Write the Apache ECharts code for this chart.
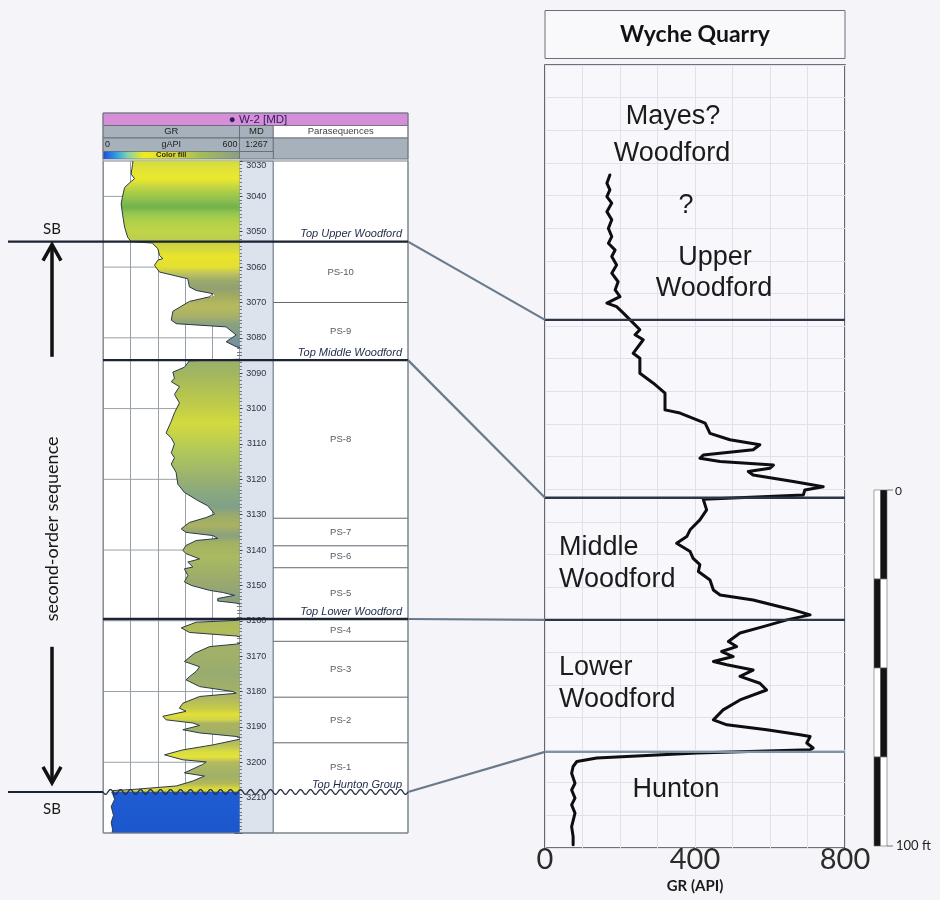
<!DOCTYPE html>
<html>
<head>
<meta charset="utf-8">
<script src="https://cdn.jsdelivr.net/npm/echarts@6/dist/echarts.min.js"></script>
<style>
  html, body { margin: 0; padding: 0; background: #f5f4f8; }
  #chart { width: 940px; height: 900px; }
</style>
</head>
<body>
<div id="chart"></div>
<script>
// ---------------- W-2 well log (measured depth ft, GR gAPI) ----------------
const w2Log = [
  [3030,130],[3031,128],[3033.7,122],[3035,137],[3036,118],[3037.5,93],[3040.3,83],[3042.2,78],
  [3045.5,85],[3048.7,93],[3051.6,107],[3052.8,122],
  [3053.2,215],[3053.6,218],[3054.8,240],[3056.7,247],[3057.6,262],[3058,240],[3059.5,225],[3061.4,247],
  [3063.3,372],[3065.6,379],[3066.6,409],[3067.5,482],[3068,490],[3068.4,468],[3069.7,379],[3072.5,306],
  [3075,299],[3076,321],[3076.9,541],[3079.2,585],[3081.1,541],[3082.5,585],[3083,620],[3086,620],
  [3086.5,379],[3088.3,357],[3089.7,306],[3091.4,313],[3092.4,299],[3093.8,335],[3096,313],[3098.4,335],
  [3101.2,313],[3103.6,299],[3106.9,276],[3108.3,299],[3110,313],[3112.5,299],[3113.9,313],[3115.7,299],
  [3118,320],[3121.4,328],[3123.7,357],[3126,416],[3127.5,460],[3129.8,490],[3130.8,453],[3132.2,379],
  [3134,343],[3135,364],[3135.9,482],[3136.7,504],[3137.3,409],[3138.7,364],[3140.1,350],[3141,364],
  [3142.5,424],[3143.4,372],[3144.8,394],[3145.3,357],[3147.2,372],[3149,357],[3150,387],[3151.4,468],
  [3152,526],[3152.8,578],[3153.7,504],[3154.4,504],[3155,585],[3155.5,620],[3159.5,620],
  [3159.9,585],[3160.4,409],[3162,343],[3163.3,379],[3164.3,585],[3164.8,620],[3166.2,620],[3166.6,585],
  [3167.3,468],[3169.2,401],[3171.5,357],[3173,424],[3174.3,409],[3175.8,379],[3176.7,364],[3178.6,424],
  [3180,571],[3180.5,585],[3181.4,424],[3183.3,350],[3184.7,335],[3185.6,364],[3187,262],[3188,276],
  [3188.9,394],[3189.6,424],[3190.8,350],[3191.7,424],[3192.7,585],[3193.2,620],[3193.5,620],[3193.7,585],
  [3195.1,482],[3196.5,350],[3197.9,269],[3199.3,350],[3199.9,453],[3200.6,438],[3203,357],[3203.9,445],
  [3205.3,394],[3206.7,321],[3207.7,129],[3208,41],[3208.5,34],[3210.5,49],[3212.5,34],[3215,44],
  [3217,34],[3219,40],[3220,38]
];

// Color-fill bands of the GR track (depth, colour)
const fillDepths = [3030,3032,3035,3037,3039,3041,3043,3045,3047,3050,3052.8,3053.2,3055,3057,3060,3062,3064,3066,3068,3071,3074,3076,3079,3082,3086,3086.5,3090,3095,3100,3104,3107,3112,3117,3120,3124,3128,3130,3133,3136,3138,3142,3146,3150,3153,3158,3160,3163,3166,3170,3175,3179,3182,3185,3186.5,3188,3189,3192,3195,3197,3198.5,3200,3204,3206,3207.5,3208.2,3208.4,3220];
const fillColors = ['#d2da3c','#e0e23a','#ebe92c','#cad842','#a8cc48','#8cc050','#72b24c','#98c850','#b0d048','#c0d448','#bacc50','#c8d040','#d8d83e','#e9e52a','#e4df32','#bac062','#9aa96a','#90a072','#a2aa62','#b6ba5e','#a8b068','#8aa280','#7e9a88','#7290a0','#7a98a0','#9ab06a','#a2b660','#b2c252','#c2ce48','#d2da3e','#c8d448','#b0c858','#a2ba68','#98b070','#88a880','#80a088','#9aaa6e','#aab260','#88a080','#a2b262','#aaba60','#a0b068','#98a870','#8ca080','#90a078','#aab860','#b2bc58','#a2b268','#a0b068','#98ac70','#a0b068','#b0b860','#c8cc48','#e2e038','#d0d448','#aab262','#a0b068','#b8c058','#d8dc40','#e6e23a','#b2ba60','#a0b068','#b0b858','#ddd938','#d8d840','#1f5bd2','#1c58cc'];

// Horizontal reference lines of the GR track
const grRowDepths = [3040, 3060, 3080, 3100, 3120, 3140, 3160, 3180, 3200];

// Formation tops picked on W-2
const w2TopNames  = ['Top Upper Woodford', 'Top Middle Woodford', 'Top Lower Woodford', 'Top Hunton Group'];
const w2TopDepths = [3052.8, 3086.3, 3159.5, 3208.4];

// Parasequences (top depth of each, base of PS-1 is Top Hunton Group)
const psNames     = ['PS-10', 'PS-9', 'PS-8', 'PS-7', 'PS-6', 'PS-5', 'PS-4', 'PS-3', 'PS-2', 'PS-1'];
const psTopDepths = [3052.8, 3070, 3086.3, 3131, 3138.8, 3145, 3159.5, 3165.8, 3181.6, 3194.5];
const psBaseDepth = 3208.4;

// ---------------- Wyche Quarry outcrop (ft below top of section, GR API) ----------------
const wqLog = [
  [30.9,173],[33.2,165],[35.1,173],[37.0,165],[38.8,178],[41.2,165],[43.5,178],[45.9,169],[48.2,178],
  [50.1,169],[52.0,187],[53.8,178],[56.2,191],[58.5,178],[60.9,195],[63.2,187],[65.1,200],[66.9,165],
  [67.9,191],[69.7,209],[71.6,227],[74.4,253],[75.8,240],[77.2,262],[81.0,235],[82.4,253],[86.6,253],
  [89.4,289],[92.2,320],[96.9,320],[97.8,360],[100.6,427],[103.5,440],[105.3,493],[106.7,573],[108.1,555],
  [109.6,422],[110.5,413],[111.4,467],[112.4,609],[113.3,600],[114.2,542],[115.2,555],[117.0,662],
  [118.5,742],[119.4,693],[120.8,689],[122.0,422],[125.0,431],[127.8,413],[130.6,387],[132.5,378],
  [134.4,351],[136.7,387],[138.6,395],[140.4,413],[142.3,409],[144.7,440],[147.5,449],[148.9,467],
  [150.3,555],[152.2,627],[153.1,662],[154.5,707],[155.9,645],[157.8,582],[159.6,520],[162.0,489],
  [163.4,511],[164.8,471],[166.2,502],[167.6,449],[168.5,485],[170.0,555],[171.8,520],[173.7,573],
  [175.6,591],[178.4,520],[181.2,475],[184.0,449],[185.4,485],[186.8,591],[188.2,680],[188.7,707],
  [190.5,698],[191.9,715],[192.4,707],[193.3,405],[194.7,138],[195.7,85],[197.1,75],[199.0,71],
  [201.8,80],[203.7,71],[206.0,80],[207.9,71],[210.2,80],[214.0,71],[216.8,75],[219.1,75]
];
const wqTopDepths = [71.6, 121.6, 155.9, 193.0];
const wqAxisLabels = [0, 400, 800];

// Scale bar divisions (ft)
const scaleBarTicks = [0, 25, 50, 75, 100];

// ---------------- chart ----------------
const DEPTH_TOP = 3030, DEPTH_BASE = 3220, GR_MAX = 600;
const SANS = '"Liberation Sans", Arial, sans-serif';
const CAL = 'Lato, "Open Sans", sans-serif';
const LOG_L = 103, LOG_R = 408, WQ_L = 545, WQ_R = 845;

const chart = echarts.init(document.getElementById('chart'), null, { renderer: 'canvas' });

const hidden = { show: false };
const option = {
  backgroundColor: '#f5f4f8',
  animation: false,
  grid: [
    { left: 103.5, top: 161, width: 136, height: 672, show: true, backgroundColor: '#ffffff', borderColor: '#7e8791', borderWidth: 1, outerBoundsMode: 'none' },
    { left: 239.5, top: 161, width: 33.8, height: 672, show: true, backgroundColor: '#dbe3ed', borderColor: '#59626d', borderWidth: 1, outerBoundsMode: 'none' },
    { left: 273.3, top: 161, width: 134.7, height: 672, show: true, backgroundColor: '#ffffff', borderColor: '#7e8791', borderWidth: 1, outerBoundsMode: 'none' },
    { left: WQ_L, top: 65, width: WQ_R - WQ_L, height: 783, show: true, backgroundColor: '#f8f7fb', borderColor: '#3f4752', borderWidth: 1.6, outerBoundsMode: 'none' },
    { left: 874, top: 490, width: 13, height: 356, show: false, outerBoundsMode: 'none' }
  ],
  xAxis: [
    { gridIndex: 0, type: 'value', min: 0, max: GR_MAX, interval: 120,
      axisLine: hidden, axisTick: hidden, axisLabel: hidden,
      splitLine: { show: true, lineStyle: { color: '#98a0a9', width: 1 } } },
    { gridIndex: 1, type: 'value', min: 0, max: 1, show: false },
    { gridIndex: 2, type: 'value', min: 0, max: 1, show: false },
    { gridIndex: 3, type: 'value', min: 0, max: 800, interval: 100,
      axisLine: hidden, axisTick: hidden,
      axisLabel: { show: true, margin: -3, fontSize: 29, fontFamily: CAL, color: '#2b2b2b',
        formatter: v => (wqAxisLabels.indexOf(v) >= 0 ? String(v) : '') },
      splitLine: { show: true, lineStyle: { color: '#e2e0ea', width: 1 } },
      name: 'GR (API)', nameLocation: 'middle', nameGap: 31,
      nameTextStyle: { fontFamily: CAL, fontWeight: 'bold', fontSize: 15, color: '#1a1a1a' } },
    { gridIndex: 4, type: 'value', min: 0, max: 2, show: false }
  ],
  yAxis: [
    { gridIndex: 0, type: 'value', inverse: true, min: DEPTH_TOP, max: DEPTH_BASE, show: false },
    { gridIndex: 1, type: 'value', inverse: true, min: DEPTH_TOP, max: DEPTH_BASE, interval: 10, position: 'right',
      axisLine: hidden,
      axisTick: { show: true, inside: true, length: 5, lineStyle: { color: '#3a424c', width: 1 } },
      minorTick: { show: true, splitNumber: 10, length: 2.5, lineStyle: { color: '#56606b', width: 0.8 } },
      axisLabel: { show: true, inside: true, margin: 7, fontSize: 9, fontFamily: SANS, color: '#2d3440',
        formatter: v => String(v), showMaxLabel: false, verticalAlignMinLabel: 'top' },
      splitLine: hidden },
    { gridIndex: 1, type: 'value', inverse: true, min: DEPTH_TOP, max: DEPTH_BASE, interval: 10, position: 'left',
      axisLine: hidden, axisLabel: hidden,
      axisTick: { show: true, inside: true, length: 3, lineStyle: { color: '#3a424c', width: 1 } },
      minorTick: { show: true, splitNumber: 10, length: 2.5, lineStyle: { color: '#56606b', width: 0.8 } },
      splitLine: hidden },
    { gridIndex: 2, type: 'value', inverse: true, min: DEPTH_TOP, max: DEPTH_BASE, show: false },
    { gridIndex: 3, type: 'value', inverse: true, min: 0, max: 220, interval: 220 / 24,
      axisLine: hidden, axisTick: hidden, axisLabel: hidden,
      splitLine: { show: true, lineStyle: { color: '#e2e0ea', width: 1 } } },
    { gridIndex: 4, type: 'value', inverse: true, min: 0, max: 100, show: false }
  ],
  series: [
    // horizontal reference lines behind the fill
    { type: 'custom', name: 'rows', xAxisIndex: 0, yAxisIndex: 0, z: 1, silent: true,
      data: grRowDepths.map(d => [0, d]),
      renderItem: (params, api) => {
        const a = api.coord([0, api.value(1)]), b = api.coord([GR_MAX, api.value(1)]);
        return { type: 'line', shape: { x1: a[0], y1: a[1], x2: b[0], y2: b[1] },
          style: { stroke: '#98a0a9', lineWidth: 1 } };
      } },
    // colour fill between GR curve and the right edge of the track
    { type: 'custom', name: 'GR colour fill', xAxisIndex: 0, yAxisIndex: 0, z: 2, silent: true,
      data: [[0, DEPTH_TOP]],
      renderItem: (params, api) => {
        const pts = w2Log.map(([d, g]) => api.coord([Math.min(g, GR_MAX), d]));
        pts.push(api.coord([GR_MAX, w2Log[w2Log.length - 1][0]]));
        pts.push(api.coord([GR_MAX, w2Log[0][0]]));
        const yTop = api.coord([0, DEPTH_TOP])[1], yBase = api.coord([0, DEPTH_BASE])[1];
        const span = DEPTH_BASE - DEPTH_TOP;
        const colorStops = fillDepths.map((d, i) => ({ offset: (d - DEPTH_TOP) / span, color: fillColors[i] }));
        return { type: 'polygon', shape: { points: pts },
          style: { fill: { type: 'linear', x: 0, y: yTop, x2: 0, y2: yBase, global: true, colorStops } } };
      } },
    // GR curve
    { type: 'line', name: 'GR', xAxisIndex: 0, yAxisIndex: 0, z: 3, clip: true, symbol: 'none',
      data: w2Log.map(([d, g]) => [g, d]),
      lineStyle: { color: '#2c3a48', width: 1 } },
    // parasequence boundaries
    { type: 'custom', name: 'PS boundaries', xAxisIndex: 2, yAxisIndex: 3, z: 2, silent: true,
      data: psTopDepths.map(d => [0, d]),
      renderItem: (params, api) => {
        const a = api.coord([0, api.value(1)]), b = api.coord([1, api.value(1)]);
        return { type: 'line', shape: { x1: a[0], y1: a[1], x2: b[0], y2: b[1] },
          style: { stroke: '#5d6670', lineWidth: 1 } };
      } },
    // parasequence names at the middle of each interval
    { type: 'custom', name: 'PS names', xAxisIndex: 2, yAxisIndex: 3, z: 3, silent: true,
      data: psNames.map((n, i) => [0.5, ((psTopDepths[i]) + (i + 1 < psTopDepths.length ? psTopDepths[i + 1] : psBaseDepth)) / 2]),
      renderItem: (params, api) => {
        const p = api.coord([api.value(0), api.value(1)]);
        return { type: 'text', x: p[0], y: p[1],
          style: { text: psNames[params.dataIndex], fill: '#555b62', fontSize: 9.5, fontFamily: SANS,
            align: 'center', verticalAlign: 'middle' } };
      } },
    // formation-top names
    { type: 'custom', name: 'Top names', xAxisIndex: 2, yAxisIndex: 3, z: 4, silent: true,
      data: w2TopDepths.map(d => [1, d]),
      renderItem: (params, api) => {
        const p = api.coord([1, api.value(1)]);
        return { type: 'text', x: p[0] - 6, y: p[1] - 2,
          style: { text: w2TopNames[params.dataIndex], fill: '#1d2a4a', fontSize: 11, fontStyle: 'italic',
            fontFamily: SANS, align: 'right', verticalAlign: 'bottom' } };
      } },
    // Wyche Quarry GR curve
    { type: 'line', name: 'Wyche GR', xAxisIndex: 3, yAxisIndex: 4, z: 3, clip: true, symbol: 'none',
      data: wqLog.map(([d, g]) => [g, d]),
      lineStyle: { color: '#0e0e10', width: 3, join: 'round', cap: 'round' } },
    // Wyche Quarry formation tops
    { type: 'custom', name: 'Wyche tops', xAxisIndex: 3, yAxisIndex: 4, z: 4, silent: true,
      data: wqTopDepths.map(d => [0, d]),
      renderItem: (params, api) => {
        const a = api.coord([0, api.value(1)]), b = api.coord([800, api.value(1)]);
        const last = params.dataIndex === wqTopDepths.length - 1;
        return { type: 'line', shape: { x1: a[0], y1: a[1], x2: b[0], y2: b[1] },
          style: { stroke: last ? '#7f93a6' : '#2c3644', lineWidth: last ? 2.2 : 2.4 } };
      } },
    // vertical scale bar
    { type: 'custom', name: 'scale', xAxisIndex: 4, yAxisIndex: 5, z: 3, silent: true,
      data: scaleBarTicks.slice(0, -1).map((t, i) => [t, scaleBarTicks[i + 1], i]),
      renderItem: (params, api) => {
        const a = api.value(0), b = api.value(1), i = api.value(2);
        const p0 = api.coord([0, a]), p1 = api.coord([1, b]), p2 = api.coord([2, b]);
        const leftDark = i % 2 === 1;
        return { type: 'group', children: [
          { type: 'rect', shape: { x: p0[0], y: p0[1], width: p1[0] - p0[0], height: p1[1] - p0[1] },
            style: { fill: leftDark ? '#141414' : '#ffffff', stroke: '#666', lineWidth: 0.6 } },
          { type: 'rect', shape: { x: p1[0], y: p0[1], width: p2[0] - p1[0], height: p1[1] - p0[1] },
            style: { fill: leftDark ? '#ffffff' : '#141414', stroke: '#666', lineWidth: 0.6 } }
        ] };
      } }
  ]
};
chart.setOption(option);

// ---------------- annotations positioned from the axes ----------------
const yW2 = d => chart.convertToPixel({ yAxisIndex: 0 }, d);
const yWQ = d => chart.convertToPixel({ yAxisIndex: 4 }, d);
const ySC = d => chart.convertToPixel({ yAxisIndex: 5 }, d);

const Z = 50;
function txt(x, y, text, o = {}) {
  const align = o.align || 'center', va = o.va || 'middle';
  return { type: 'text', z: Z, x, y, rotation: o.rot || 0,
    style: { text, fill: o.color || '#1a1a1a', fontSize: o.size || 12, fontFamily: o.family || SANS,
      fontWeight: o.weight || 'normal', fontStyle: o.fstyle || 'normal',
      align, textAlign: align, verticalAlign: va, textVerticalAlign: va } };
}
function seg(x1, y1, x2, y2, color, w) {
  return { type: 'line', z: Z, shape: { x1, y1, x2, y2 }, style: { stroke: color, lineWidth: w, lineCap: 'butt' } };
}
function box(x, y, w, h, fill, stroke, lw) {
  return { type: 'rect', z: Z, shape: { x, y, width: w, height: h },
    style: { fill: fill || 'none', stroke: stroke || 'none', lineWidth: lw || 1 } };
}

const g = [];
// log header
const GRAY = '#a7b1bb', HL = '#5e6670';
const xMD = 239.5, xPS = 273.3;
g.push(box(LOG_L, 113, LOG_R - LOG_L, 12.5, '#d78ed8', HL, 0.8));
g.push(txt(258, 119.5, '\u25CF W-2 [MD]', { size: 11.5, color: '#2b1d5e' }));
g.push(box(LOG_L, 125.5, xMD - LOG_L, 12.5, GRAY, HL, 0.8));
g.push(txt((LOG_L + xMD) / 2, 131.8, 'GR', { size: 9.5, color: '#222' }));
g.push(box(xMD, 125.5, xPS - xMD, 12.5, GRAY, HL, 0.8));
g.push(txt((xMD + xPS) / 2, 131.8, 'MD', { size: 9.5, color: '#222' }));
g.push(box(xPS, 125.5, LOG_R - xPS, 12.5, '#ffffff', HL, 0.8));
g.push(txt((xPS + LOG_R) / 2, 131.8, 'Parasequences', { size: 9.5, color: '#444' }));
g.push(box(LOG_L, 138, xMD - LOG_L, 13.5, GRAY, HL, 0.8));
g.push(txt(LOG_L + 2, 144.8, '0', { size: 9, align: 'left', color: '#222' }));
g.push(txt((LOG_L + xMD) / 2, 144.8, 'gAPI', { size: 9, color: '#222' }));
g.push(txt(xMD - 2, 144.8, '600', { size: 9, align: 'right', color: '#222' }));
g.push(box(xMD, 138, xPS - xMD, 13.5, GRAY, HL, 0.8));
g.push(txt((xMD + xPS) / 2, 144.8, '1:267', { size: 9, color: '#222' }));
g.push(box(xPS, 138, LOG_R - xPS, 21, GRAY, HL, 0.8));
g.push(box(xMD, 151.5, xPS - xMD, 7.5, GRAY, HL, 0.8));
g.push({ type: 'rect', z: Z, shape: { x: LOG_L, y: 151.5, width: xMD - LOG_L, height: 7.5 },
  style: { stroke: HL, lineWidth: 0.6, fill: { type: 'linear', x: 0, y: 0, x2: 1, y2: 0, colorStops: [
    { offset: 0, color: '#1d48d4' }, { offset: 0.1, color: '#2f9fe6' }, { offset: 0.18, color: '#7fd0b0' },
    { offset: 0.3, color: '#f0ec1e' }, { offset: 0.5, color: '#d4dc34' }, { offset: 0.72, color: '#a4bc58' },
    { offset: 1, color: '#8a9e86' }] } } });
g.push(txt((LOG_L + xMD) / 2, 155.4, 'Color fill', { size: 7.5, color: '#3a2d12', weight: 'bold' }));
g.push(box(LOG_L, 113, LOG_R - LOG_L, 833 - 113, 'none', '#7a838d', 1));

// formation-top lines across the log, sequence boundaries, connectors to the outcrop
const HEAVY = '#1c2333';
w2TopDepths.forEach((d, i) => {
  const y = yW2(d);
  const isSB = (i === 0 || i === w2TopDepths.length - 1);
  const x0 = isSB ? 8 : LOG_L;
  if (i === w2TopDepths.length - 1) {
    g.push(seg(x0, y, LOG_L, y, HEAVY, 2));
    const pts = [];
    for (let x = LOG_L; x <= LOG_R; x += 1) pts.push([x, y + 2.4 * Math.sin((x - LOG_L) / 10 * 2 * Math.PI)]);
    g.push({ type: 'polyline', z: Z, shape: { points: pts }, style: { stroke: '#2a3242', lineWidth: 1.3, fill: 'none' } });
  } else {
    g.push(seg(x0, y, LOG_R, y, HEAVY, 2.4));
  }
  g.push(seg(LOG_R, y, WQ_L, yWQ(wqTopDepths[i]), '#697a8b', 2.2));
});

// SB labels and second-order sequence arrow
const ySB1 = yW2(w2TopDepths[0]), ySB2 = yW2(w2TopDepths[w2TopDepths.length - 1]);
const AX = 52;
g.push(txt(AX, ySB1 - 12, 'SB', { size: 15, family: CAL, color: '#1a1a1a' }));
g.push(txt(AX, ySB2 + 17, 'SB', { size: 15, family: CAL, color: '#1a1a1a' }));
const mid = (ySB1 + ySB2) / 2;
g.push(seg(AX, ySB1 + 4, AX, mid - 160, '#111', 3.5));
g.push(seg(AX, mid + 130, AX, ySB2 - 9, '#111', 3.5));
g.push({ type: 'polyline', z: Z, shape: { points: [[AX - 9, ySB1 + 19], [AX, ySB1 + 3], [AX + 9, ySB1 + 19]] },
  style: { stroke: '#111', lineWidth: 3.5, fill: 'none', lineJoin: 'miter' } });
g.push({ type: 'polyline', z: Z, shape: { points: [[AX - 9, ySB2 - 25], [AX, ySB2 - 9], [AX + 9, ySB2 - 25]] },
  style: { stroke: '#111', lineWidth: 3.5, fill: 'none', lineJoin: 'miter' } });
g.push(txt(AX, mid + 12, 'second-order sequence', { size: 18, family: CAL, color: '#151515', rot: Math.PI / 2 }));

// Wyche Quarry title box
g.push(box(WQ_L, 10.5, WQ_R - WQ_L, 48, '#f9f8fb', '#6b707a', 1));
g.push(txt((WQ_L + WQ_R) / 2, 35, 'Wyche Quarry', { size: 23, family: CAL, weight: 'bold', color: '#121212' }));

// unit names inside the outcrop column
const UF = 27, UC = '#1b1b1b';
g.push(txt(673, 117, 'Mayes?', { size: UF, color: UC }));
g.push(txt(672, 154, 'Woodford', { size: UF, color: UC }));
g.push(txt(686, 206, '?', { size: UF, color: UC }));
g.push(txt(715, 258, 'Upper', { size: UF, color: UC }));
g.push(txt(714, 289, 'Woodford', { size: UF, color: UC }));
g.push(txt(559, 548, 'Middle', { size: UF, color: UC, align: 'left' }));
g.push(txt(559, 580, 'Woodford', { size: UF, color: UC, align: 'left' }));
g.push(txt(559, 668, 'Lower', { size: UF, color: UC, align: 'left' }));
g.push(txt(559, 700, 'Woodford', { size: UF, color: UC, align: 'left' }));
g.push(txt(676, 790, 'Hunton', { size: UF, color: UC }));

// scale bar labels
const sTop = ySC(scaleBarTicks[0]), sBot = ySC(scaleBarTicks[scaleBarTicks.length - 1]);
g.push(seg(887, sTop, 893, sTop, '#555', 0.8));
g.push(seg(887, sBot, 893, sBot, '#555', 0.8));
g.push(txt(895, sTop + 1, String(scaleBarTicks[0]), { size: 12, family: CAL, align: 'left', color: '#222' }));
g.push(txt(896, sBot, String(scaleBarTicks[scaleBarTicks.length - 1]) + ' ft', { size: 13, family: CAL, align: 'left', color: '#222' }));

chart.setOption({ graphic: { elements: g } });
</script>
</body>
</html>
